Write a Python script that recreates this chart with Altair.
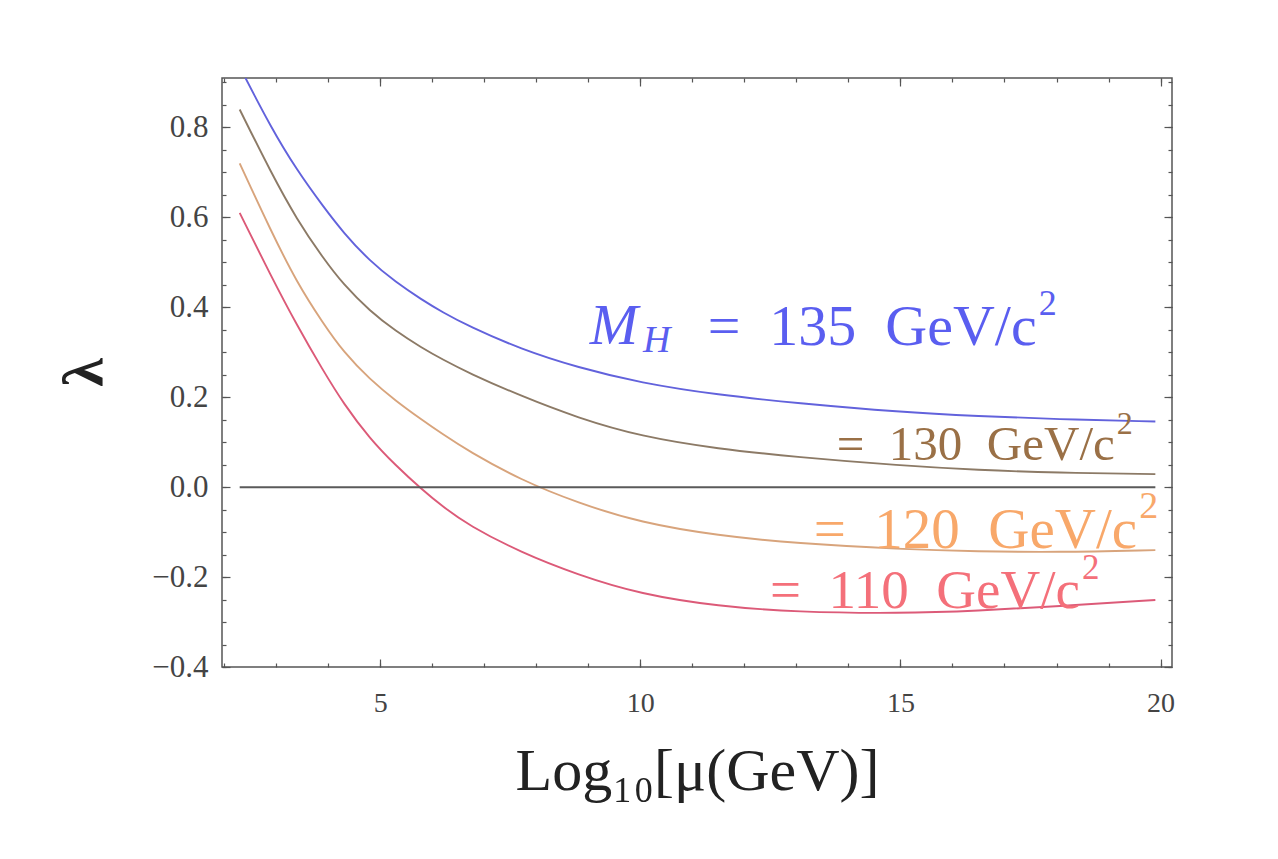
import altair as alt
import pandas as pd

# ---- data ----
mu = [2.3, 2.9, 3.4, 3.9, 4.3, 4.8, 5.3, 5.8, 6.2, 6.7, 7.7, 8.8, 10.0, 11.5, 13.0, 15.0, 16.5,
      18.0, 19.9]
lam_135 = [0.935, 0.80, 0.705, 0.625, 0.565, 0.503, 0.456, 0.417, 0.389, 0.358, 0.307, 0.266,
           0.232, 0.205, 0.187, 0.167, 0.158, 0.151, 0.146]
lam_130 = [0.84, 0.70, 0.595, 0.51, 0.45, 0.392, 0.347, 0.31, 0.284, 0.254, 0.203, 0.154, 0.113,
           0.085, 0.067, 0.048, 0.038, 0.032, 0.029]
lam_120 = [0.72, 0.57, 0.455, 0.365, 0.30, 0.24, 0.192, 0.15, 0.118, 0.080, 0.016, -0.035, -0.079,
           -0.108, -0.125, -0.138, -0.143, -0.145, -0.14]
lam_110 = [0.61, 0.47, 0.36, 0.26, 0.185, 0.108, 0.048, -0.005, -0.043, -0.085, -0.145, -0.195,
           -0.238, -0.265, -0.278, -0.281, -0.275, -0.265, -0.251]
series_names = ["135", "130", "120", "110"]
line_colors = ["#6262dc", "#8c7a66", "#d8a47c", "#dc5a78"]

zero_mu = [2.3, 19.9]
zero_lam = [0.0, 0.0]

x_major = [5, 10, 15, 20]
x_minor = list(range(2, 21))
y_major = [-0.4, -0.2, 0.0, 0.2, 0.4, 0.6, 0.8]
y_minor = [round(-0.4 + 0.05 * i, 2) for i in range(27)]

SP = "\u2002"
label_text = ["M", "H",
              f"={SP}135{SP}GeV/c", "2",
              f"={SP}130{SP}GeV/c", "2",
              f"={SP}120{SP}GeV/c", "2",
              f"={SP}110{SP}GeV/c", "2"]
label_mu = [9.03, 10.05, 17.62, 17.62, 19.12, 19.12, 19.55, 19.55, 18.45, 18.45]
label_lam = [0.318, 0.300, 0.316, 0.316, 0.060, 0.060, -0.135, -0.135, -0.269, -0.269]

rows = []
for name, vals in zip(series_names, [lam_135, lam_130, lam_120, lam_110]):
    for m, v in zip(mu, vals):
        rows.append({"mu": m, "lam": v, "series": name})
df = pd.DataFrame(rows)
zero_df = pd.DataFrame({"mu": zero_mu, "lam": zero_lam})
labels_df = pd.DataFrame({"mu": label_mu, "lam": label_lam, "text": label_text})

FONT = "Liberation Serif"
FRAME = "#555555"

xs = alt.Scale(domain=[1.96, 20.22], nice=False, zero=False)
ys = alt.Scale(domain=[-0.4, 0.91], nice=False, zero=False)


def x_axis(orient, values, size, labels, title=""):
    kw = dict(orient=orient, values=values, tickSize=size, offset=-size, domain=False,
              grid=False, labels=labels, tickColor=FRAME, tickWidth=1.2, title=title)
    if labels:
        kw.update(labelFont=FONT, labelFontSize=28, labelColor="#444444", labelPadding=22,
                  format="d")
    if title:
        kw.update(titleFont=FONT, titleFontSize=60, titleFontWeight="normal", titleColor="#222222",
                  titleX=475, titleY=130, titleAlign="center", titleBaseline="alphabetic")
    return alt.Axis(**kw)


def y_axis(orient, values, size, labels, title=""):
    kw = dict(orient=orient, values=values, tickSize=size, offset=-size, domain=False,
              grid=False, labels=labels, tickColor=FRAME, tickWidth=1.2, title=title)
    if labels:
        kw.update(labelFont=FONT, labelFontSize=31, labelColor="#444444", labelPadding=14,
                  format=".1f")
    if title:
        kw.update(titleFont=FONT, titleFontSize=58, titleFontWeight="bold", titleColor="#222222",
                  titleAngle=270, titleX=-129, titleY=294, titleAlign="center",
                  titleBaseline="alphabetic")
    return alt.Axis(**kw)


lines = alt.Chart(df).mark_line(interpolate="basis", strokeWidth=1.9, clip=True).encode(
    x=alt.X("mu:Q", scale=xs, axis=x_axis("bottom", x_major, 8, True, "Log₁₀[μ(GeV)]")),
    y=alt.Y("lam:Q", scale=ys, axis=y_axis("left", y_major, 8, True, "λ")),
    color=alt.Color("series:N", scale=alt.Scale(domain=series_names, range=line_colors), legend=None),
    detail="series:N",
)

zero = alt.Chart(zero_df).mark_line(color="#5a5a5a", strokeWidth=2).encode(
    x=alt.X("mu:Q", scale=xs, axis=x_axis("bottom", x_minor, 4, False)),
    y=alt.Y("lam:Q", scale=ys, axis=y_axis("left", y_minor, 4, False)),
)


def label_layer(i, color, size, align, style="normal", dx=0, dy=0, xax=None, yax=None):
    enc_x = alt.X("mu:Q", scale=xs, axis=xax) if xax is not None else alt.X("mu:Q", scale=xs, axis=None)
    enc_y = alt.Y("lam:Q", scale=ys, axis=yax) if yax is not None else alt.Y("lam:Q", scale=ys, axis=None)
    return alt.Chart(labels_df.iloc[[i]]).mark_text(
        font=FONT, fontSize=size, color=color, align=align, baseline="alphabetic",
        fontStyle=style, dx=dx, dy=dy
    ).encode(x=enc_x, y=enc_y, text="text:N")


BLUE, BROWN, ORANGE, RED = "#5a5ef0", "#9a7046", "#f8a86a", "#f4707a"

t_M = label_layer(0, BLUE, 58, "left", "italic",
                  xax=x_axis("top", x_major, 8, False), yax=y_axis("right", y_major, 8, False))
t_H = label_layer(1, BLUE, 38, "left", "italic",
                  xax=x_axis("top", x_minor, 4, False), yax=y_axis("right", y_minor, 4, False))
t_135 = label_layer(2, BLUE, 58, "right")
s_135 = label_layer(3, BLUE, 36, "left", dx=2, dy=-30)
t_130 = label_layer(4, BROWN, 49, "right")
s_130 = label_layer(5, BROWN, 32, "left", dx=2, dy=-26)
t_120 = label_layer(6, ORANGE, 57, "right")
s_120 = label_layer(7, ORANGE, 38, "left", dx=2, dy=-30)
t_110 = label_layer(8, RED, 55, "right")
s_110 = label_layer(9, RED, 35, "left", dx=2, dy=-29)

chart = alt.layer(
    lines, zero, t_M, t_H, t_135, s_135, t_130, s_130, t_120, s_120, t_110, s_110
).resolve_axis(
    x="independent", y="independent"
).properties(
    width=950,
    height=589,
    autosize=alt.AutoSizeParams(type="none"),
    padding={"left": 214, "top": 70, "right": 90, "bottom": 170},
    background="white",
).configure_view(stroke=FRAME, strokeWidth=1.5)

chart.save("out.html", embed_options={"renderer": "svg", "actions": False})
